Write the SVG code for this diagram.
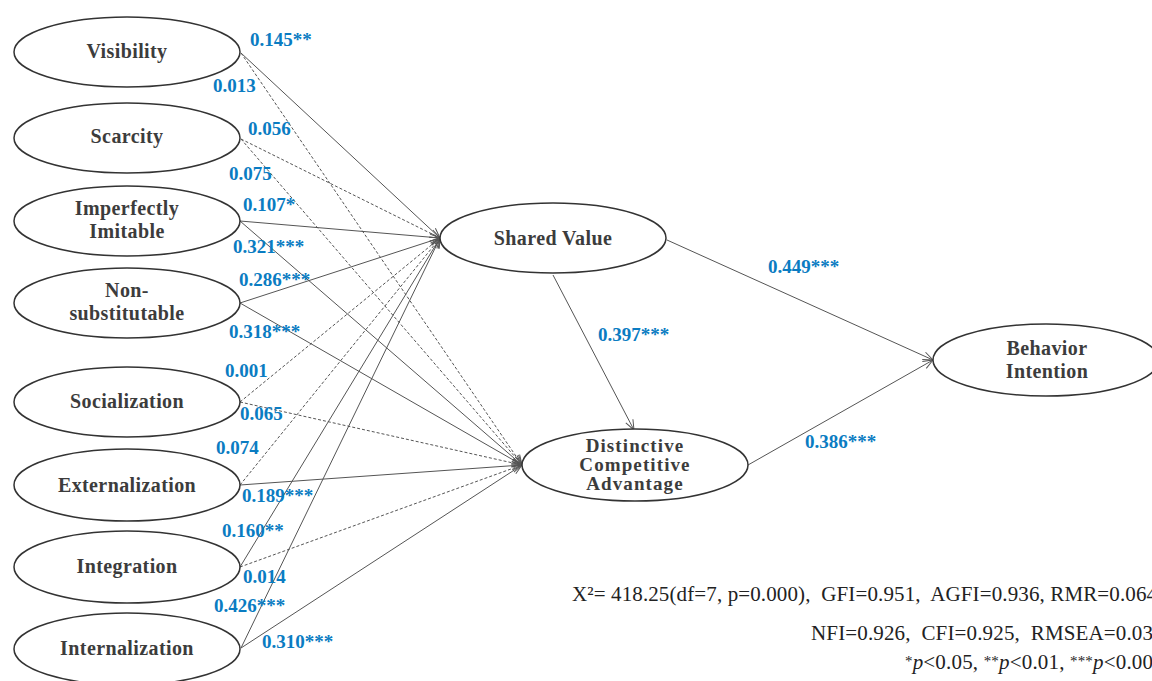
<svg xmlns="http://www.w3.org/2000/svg" width="1152" height="681" viewBox="0 0 1152 681">
<defs>
<marker id="arr" markerUnits="userSpaceOnUse" markerWidth="12" markerHeight="10" refX="11" refY="5" orient="auto">
<path d="M1,1 L11,5 L1,9" fill="none" stroke="#555" stroke-width="1"/>
</marker>
<style>
.node ellipse{fill:#fff;stroke:#333;stroke-width:1.5}
.nt{font-family:"Liberation Serif","Times New Roman",serif;font-weight:bold;font-size:20px;fill:#3c3c3c;text-anchor:middle;letter-spacing:0.4px}
.nts{font-size:19px;letter-spacing:1.1px}
.c{stroke:#555;stroke-width:1;fill:none;marker-end:url(#arr)}
.d{stroke-dasharray:3 2}
.lb{font-family:"Liberation Serif","Times New Roman",serif;font-weight:bold;font-size:19px;fill:#0a7cc2}
.st{font-family:"Liberation Serif","Times New Roman",serif;font-size:21px;fill:#222;white-space:pre}
.sup{font-size:15px}
</style>
</defs>
<rect width="1152" height="681" fill="#fff"/>
<g id="connectors">
<line class="c" x1="241" y1="53" x2="440" y2="238"/>
<line class="c d" x1="241" y1="53" x2="522" y2="465"/>
<line class="c d" x1="241" y1="139" x2="440" y2="238"/>
<line class="c d" x1="241" y1="139" x2="522" y2="465"/>
<line class="c" x1="240" y1="221" x2="440" y2="238"/>
<line class="c" x1="240" y1="221" x2="522" y2="465"/>
<line class="c" x1="240" y1="303" x2="440" y2="238"/>
<line class="c" x1="240" y1="303" x2="522" y2="465"/>
<line class="c d" x1="240" y1="402" x2="440" y2="238"/>
<line class="c d" x1="240" y1="402" x2="522" y2="465"/>
<line class="c d" x1="240" y1="485" x2="440" y2="238"/>
<line class="c" x1="240" y1="485" x2="522" y2="465"/>
<line class="c" x1="240" y1="567" x2="440" y2="238"/>
<line class="c d" x1="240" y1="567" x2="522" y2="465"/>
<line class="c" x1="241" y1="648" x2="440" y2="238"/>
<line class="c" x1="241" y1="648" x2="522" y2="465"/>
<line class="c" x1="553" y1="275" x2="634" y2="430"/>
<line class="c" x1="667" y1="240" x2="933" y2="360"/>
<line class="c" x1="748" y1="465" x2="933" y2="360"/>
</g>
<g id="labels">
<text class="lb" x="250" y="46">0.145**</text>
<text class="lb" x="213" y="92">0.013</text>
<text class="lb" x="248" y="135">0.056</text>
<text class="lb" x="229" y="180">0.075</text>
<text class="lb" x="243" y="211">0.107*</text>
<text class="lb" x="233" y="253">0.321***</text>
<text class="lb" x="239" y="286">0.286***</text>
<text class="lb" x="229" y="338">0.318***</text>
<text class="lb" x="225" y="377">0.001</text>
<text class="lb" x="240" y="420">0.065</text>
<text class="lb" x="216" y="454">0.074</text>
<text class="lb" x="242" y="502">0.189***</text>
<text class="lb" x="222" y="537">0.160**</text>
<text class="lb" x="243" y="583">0.014</text>
<text class="lb" x="214" y="612">0.426***</text>
<text class="lb" x="262" y="648">0.310***</text>
<text class="lb" x="768" y="273">0.449***</text>
<text class="lb" x="598" y="341">0.397***</text>
<text class="lb" x="805" y="448">0.386***</text>
</g>
<g id="n-visibility" class="node"><ellipse cx="127" cy="52" rx="113" ry="35"/><text class="nt" x="127" y="58">Visibility</text></g>
<g id="n-scarcity" class="node"><ellipse cx="127" cy="138" rx="113" ry="35"/><text class="nt" x="127" y="143">Scarcity</text></g>
<g id="n-imperfectly" class="node"><ellipse cx="127" cy="221" rx="113" ry="35"/><text class="nt" x="127" y="215">Imperfectly</text><text class="nt" x="127" y="238">Imitable</text></g>
<g id="n-nonsub" class="node"><ellipse cx="127" cy="303" rx="113" ry="35"/><text class="nt" x="127" y="297">Non-</text><text class="nt" x="127" y="320">substitutable</text></g>
<g id="n-socialization" class="node"><ellipse cx="127" cy="402" rx="113" ry="35"/><text class="nt" x="127" y="408">Socialization</text></g>
<g id="n-externalization" class="node"><ellipse cx="127" cy="485" rx="113" ry="36"/><text class="nt" x="127" y="492">Externalization</text></g>
<g id="n-integration" class="node"><ellipse cx="127" cy="567" rx="113" ry="36"/><text class="nt" x="127" y="573">Integration</text></g>
<g id="n-internalization" class="node"><ellipse cx="127" cy="649" rx="113" ry="36"/><text class="nt" x="127" y="655">Internalization</text></g>
<g id="n-shared" class="node"><ellipse cx="553" cy="238" rx="113" ry="35"/><text class="nt" x="553" y="245">Shared Value</text></g>
<g id="n-dca" class="node"><ellipse cx="635" cy="465" rx="113" ry="36"/><text class="nt nts" x="635" y="452">Distinctive</text><text class="nt nts" x="635" y="471">Competitive</text><text class="nt nts" x="635" y="490">Advantage</text></g>
<g id="n-behavior" class="node"><ellipse cx="1046" cy="360" rx="113" ry="36"/><text class="nt" x="1047" y="355">Behavior</text><text class="nt" x="1047" y="378">Intention</text></g>
<g id="stats">
<text class="st" xml:space="preserve" x="572" y="601" textLength="585" lengthAdjust="spacing">X²= 418.25(df=7, p=0.000),  GFI=0.951,  AGFI=0.936, RMR=0.064</text>
<text class="st" xml:space="preserve" x="811" y="640" textLength="342" lengthAdjust="spacing">NFI=0.926,  CFI=0.925,  RMSEA=0.03</text>
<text class="st" xml:space="preserve" x="905" y="669" textLength="248" lengthAdjust="spacing"><tspan class="sup" dy="-3">*</tspan><tspan font-style="italic" dy="3">p</tspan>&lt;0.05, <tspan class="sup" dy="-3">**</tspan><tspan font-style="italic" dy="3">p</tspan>&lt;0.01, <tspan class="sup" dy="-3">***</tspan><tspan font-style="italic" dy="3">p</tspan>&lt;0.00</text>
</g>
</svg>
